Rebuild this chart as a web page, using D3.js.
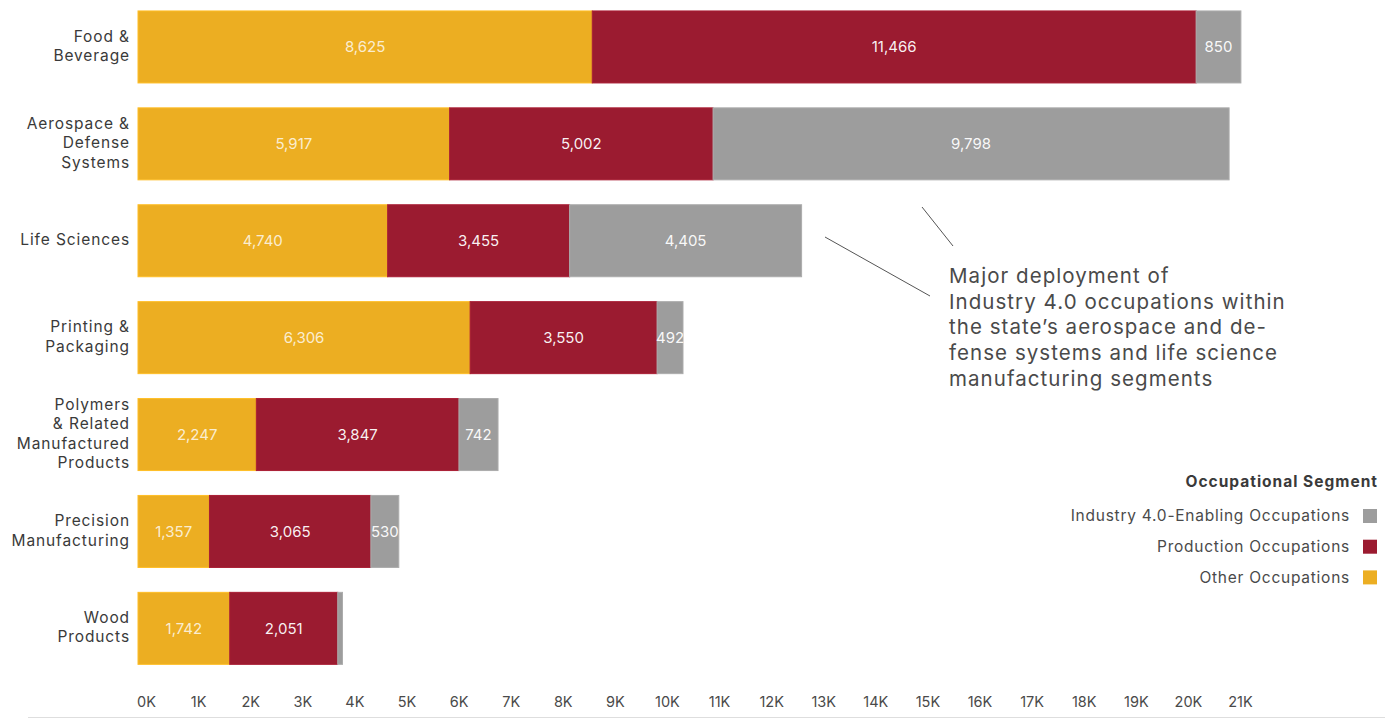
<!DOCTYPE html>
<html>
<head>
<meta charset="utf-8">
<script src="https://cdn.jsdelivr.net/npm/d3@7"></script>
<style>
  body { margin: 0; background: #fff; }
  svg text { font-family: Inter, 'Open Sans', sans-serif; }
</style>
</head>
<body>
<div id="chart"></div>
<script>
// Chart data
const categories = [
  ['Food &', 'Beverage'],
  ['Aerospace &', 'Defense', 'Systems'],
  ['Life Sciences'],
  ['Printing &', 'Packaging'],
  ['Polymers', '& Related', 'Manufactured', 'Products'],
  ['Precision', 'Manufacturing'],
  ['Wood', 'Products']
];
const other = [8625, 5917, 4740, 6306, 2247, 1357, 1742];
const production = [11466, 5002, 3455, 3550, 3847, 3065, 2051];
const industry40 = [850, 9798, 4405, 492, 742, 530, 90];
const showLabel = [true, true, true, true, true, true, false];
const tickValues = d3.range(0, 22000, 1000);
const segments = ['Other Occupations', 'Production Occupations', 'Industry 4.0-Enabling Occupations'];
const colors = ['#ecae22', '#9b1b30', '#9d9d9d'];

let width = 1385;
let height = 719;

let svg = d3.select('#chart').append('svg')
  .attr('width', width)
  .attr('height', height);

let xscale = d3.scaleLinear().domain([0, 21000]).range([138, 1244]);
// axis labels in the original sit a little inside the bar scale
let xaxisScale = d3.scaleLinear().domain([0, 21000]).range([146, 1240]);
let yscale = d3.scaleBand()
  .domain(d3.range(categories.length))
  .range([-1.5, 676.8])
  .paddingInner(0.257)
  .paddingOuter(0.1285);

// stacking
let rows = categories.map((c, i) => ({ i: i, other: other[i], production: production[i], industry40: industry40[i] }));
let stack = d3.stack().keys(['other', 'production', 'industry40']);
let series = stack(rows);

let g = svg.append('g');
series.forEach(function (s, k) {
  let grp = g.append('g');
  grp.selectAll('rect')
    .data(s)
    .join('rect')
    .attr('x', d => xscale(d[0]))
    .attr('y', d => yscale(d.data.i))
    .attr('width', d => xscale(d[1]) - xscale(d[0]))
    .attr('height', yscale.bandwidth())
    .attr('fill', colors[k])
    .attr('stroke', d3.color(colors[k]).brighter(0.25))
    .attr('stroke-width', 1);
  grp.selectAll('text')
    .data(s.filter(d => k < 2 || showLabel[d.data.i]))
    .join('text')
    .text(d => d3.format(',')(d[1] - d[0]))
    .attr('x', d => (xscale(d[0]) + xscale(d[1])) / 2)
    .attr('y', d => yscale(d.data.i) + yscale.bandwidth() / 2)
    .attr('dy', '0.35em')
    .attr('text-anchor', 'middle')
    .attr('font-size', 15)
    .attr('fill', '#fff')
    .attr('fill-opacity', k === 0 ? 0.8 : 0.95);
});

// category labels
let ylab = svg.append('g');
categories.forEach(function (lines, i) {
  let cy = yscale(i) + yscale.bandwidth() / 2 - 1;
  let lh = 19.3;
  let t = ylab.append('text')
    .attr('text-anchor', 'end')
    .attr('font-size', 15.5)
    .attr('letter-spacing', '0.9px')
    .attr('fill', '#3a3a3a');
  lines.forEach(function (l, j) {
    t.append('tspan')
      .attr('x', 130)
      .attr('y', cy + (j - (lines.length - 1) / 2) * lh)
      .attr('dy', '0.35em')
      .text(l);
  });
});

// x axis
let xaxis = d3.axisBottom(xaxisScale)
  .tickValues(tickValues)
  .tickSize(0)
  .tickFormat(d => d / 1000 + 'K');
svg.append('g')
  .attr('transform', 'translate(0, 694)')
  .call(xaxis)
  .call(a => a.select('.domain').remove())
  .selectAll('text')
  .attr('font-size', 14.5)
  .attr('fill', '#4a4a4a');

// bottom rule
svg.append('line')
  .attr('x1', 28).attr('x2', width)
  .attr('y1', 717.5).attr('y2', 717.5)
  .attr('stroke', '#dedede');

// annotation
svg.append('line')
  .attr('x1', 825).attr('y1', 237).attr('x2', 930).attr('y2', 296)
  .attr('stroke', '#555').attr('stroke-width', 1);
svg.append('line')
  .attr('x1', 922).attr('y1', 207).attr('x2', 953).attr('y2', 246)
  .attr('stroke', '#555').attr('stroke-width', 1);
let note = ['Major deployment of', 'Industry 4.0 occupations within', 'the state\u2019s aerospace and de-', 'fense systems and life science', 'manufacturing segments'];
svg.append('g').selectAll('text')
  .data(note)
  .join('text')
  .text(d => d)
  .attr('x', 949)
  .attr('y', (d, i) => 276 + i * 25.6)
  .attr('dy', '0.35em')
  .attr('font-size', 20.5)
  .attr('letter-spacing', '1.05px')
  .attr('fill', '#4a4a4a');

// legend
let legend = svg.append('g');
legend.append('text')
  .text('Occupational Segment')
  .attr('x', 1378).attr('y', 482).attr('dy', '0.35em')
  .attr('text-anchor', 'end')
  .attr('font-size', 15.5)
  .attr('font-weight', 'bold')
  .attr('letter-spacing', '1px')
  .attr('fill', '#3a3a3a');
let legendOrder = [2, 1, 0];
legendOrder.forEach(function (k, j) {
  let cy = 516 + j * 30.7;
  legend.append('rect')
    .attr('x', 1363).attr('y', cy - 7)
    .attr('width', 14).attr('height', 14)
    .attr('fill', colors[k]);
  legend.append('text')
    .text(segments[k])
    .attr('x', 1350).attr('y', cy).attr('dy', '0.35em')
    .attr('text-anchor', 'end')
    .attr('font-size', 15.5)
    .attr('letter-spacing', '0.75px')
    .attr('fill', '#4a4a4a');
});
</script>
</body>
</html>
